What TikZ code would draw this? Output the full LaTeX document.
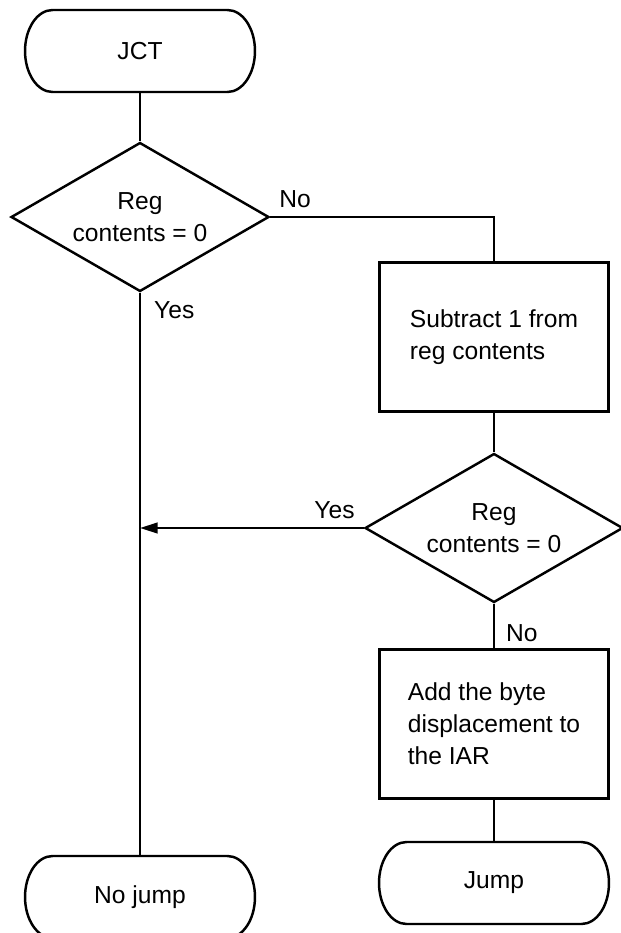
\documentclass[tikz,border=0pt]{standalone}
\usepackage{fontspec}
\setmainfont{Liberation Sans}
\usetikzlibrary{arrows.meta, shapes.geometric}

% outline of a start/stop box: straight top and bottom, half-ellipse ends
\newcommand{\capsule}[1]{%
	\draw ([xshift=0.55cm]#1.north west) -- ([xshift=-0.55cm]#1.north east)
	.. controls ([xshift=-0.246cm]#1.north east) and ([yshift=0.453cm]#1.east) .. (#1.east)
	.. controls ([yshift=-0.453cm]#1.east) and ([xshift=-0.246cm]#1.south east) .. ([xshift=-0.55cm]#1.south east)
	-- ([xshift=0.55cm]#1.south west)
	.. controls ([xshift=0.246cm]#1.south west) and ([yshift=-0.453cm]#1.west) .. (#1.west)
	.. controls ([yshift=0.453cm]#1.west) and ([xshift=0.246cm]#1.north west) .. ([xshift=0.55cm]#1.north west)
	-- cycle;}

\begin{document}
\begin{tikzpicture}[
		% grid in small steps, y counted downwards from the top edge
		x={(0.02cm,0cm)}, y={(0cm,-0.02cm)},
		>={Triangle[length=10pt, width=6pt]},
		line width=1.4pt,
		font=\fontsize{14}{18.2}\selectfont,
		terminal/.style={rectangle, outer sep=0pt, minimum width=4.6cm, minimum height=1.64cm},
		decision/.style={draw, diamond, aspect=1.73, inner sep=0pt, minimum width=5.16cm, minimum height=2.98cm, align=center},
		process/.style={draw, rectangle, minimum width=4.58cm, minimum height=2.98cm, align=left},
		branch/.style={inner sep=0.16cm}
		]
		
		% page frame
		\clip (0,0) rectangle (621,933);
		
		% --- 1. LEFT COLUMN: entry, first test, exit ---
		\node[terminal] (jct) at (140,51) {JCT};
		\node[decision] (d1) at (140,217) {Reg\\contents = 0};
		\node[terminal] (nojump) at (140,897) {No jump};
		
		% --- 2. RIGHT COLUMN: decrement, second test, jump ---
		\node[process] (sub) at (494,337) {Subtract 1 from\\reg contents};
		\node[decision] (d2) at (494,528) {Reg\\contents = 0};
		\node[process] (add) at (494,724) {Add the byte\\displacement to\\the IAR};
		\node[terminal] (jump) at (494,883) {Jump};
		
		\capsule{jct}
		\capsule{nojump}
		\capsule{jump}
		
		% --- 3. FLOW LINES ---
		\draw (jct) -- (d1);
		\draw (d1.east) -| (sub.north);
		\draw (sub) -- (d2);
		\draw (d2) -- (add);
		\draw (add) -- (jump);
		\draw (d1.south) -- (nojump.north);
		
		% second test joins the Yes line
		\coordinate (merge) at (d1.south |- d2.west);
		\draw[->] (d2.west) -- (merge);
		
		% Branch labels
		\node[branch, anchor=south west] (no1) at (d1.east) {No};
		\node[branch, anchor=north west, xshift=0.1cm] (yes1) at (d1.south) {Yes};
		\node[branch, anchor=south east] (yes2) at (d2.west) {Yes};
		\node[branch, anchor=north west, xshift=0.06cm, yshift=-0.24cm] (no2) at (d2.south) {No};
		
	\end{tikzpicture}
\end{document}
